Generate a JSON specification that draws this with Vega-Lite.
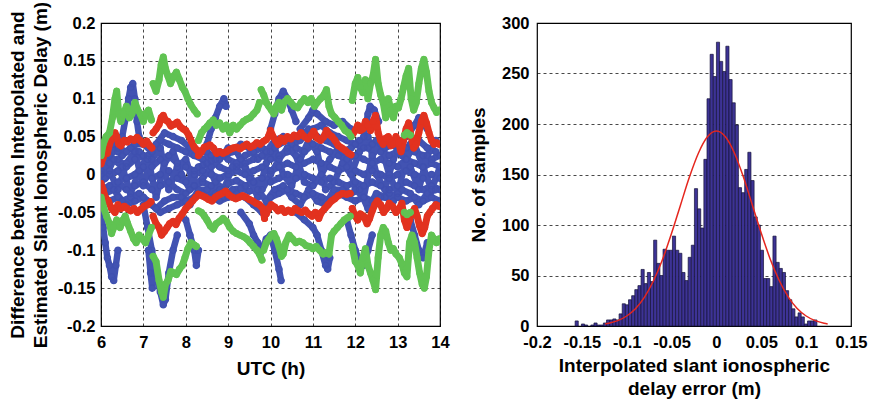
{
"$schema":"https://vega.github.io/schema/vega-lite/v6.json",
"background":"white",
"padding":{"left":7,"top":0,"right":5,"bottom":0},
"config":{
"font":"Liberation Sans",
"view":{"stroke":"black","strokeWidth":1.2},
"axis":{"labelFont":"Liberation Sans","labelFontSize":16.5,"labelFontWeight":"bold","labelColor":"black","titleFont":"Liberation Sans","titleFontSize":19,"titleFontWeight":"bold","titleColor":"black","domain":false,"ticks":false,"gridColor":"black","gridDash":[3,3],"gridWidth":0.8,"gridOpacity":0.9,"titleLineHeight":23,"labelFlush":false},
"concat":{"spacing":18}
},
"datasets":{
"blue":[
{"t":6,"v":0.005,"s":"b1"},{"t":6.2,"v":0.025,"s":"b1"},{"t":6.4,"v":0.035,"s":"b1"},{"t":6.6,"v":0.03,"s":"b1"},{"t":6.8,"v":0.04,"s":"b1"},{"t":7,"v":0.04,"s":"b1"},{"t":7.2,"v":0.03,"s":"b1"},{"t":7.4,"v":0.045,"s":"b1"},{"t":7.6,"v":0.04,"s":"b1"},{"t":7.8,"v":0.035,"s":"b1"},{"t":8,"v":0.03,"s":"b1"},{"t":8.2,"v":0.025,"s":"b1"},{"t":8.4,"v":0.02,"s":"b1"},{"t":8.6,"v":0.025,"s":"b1"},{"t":8.8,"v":0.03,"s":"b1"},{"t":9,"v":0.02,"s":"b1"},{"t":9.2,"v":0.015,"s":"b1"},{"t":9.4,"v":0.025,"s":"b1"},{"t":9.6,"v":0.03,"s":"b1"},{"t":9.8,"v":0.035,"s":"b1"},{"t":10,"v":0.03,"s":"b1"},{"t":10.2,"v":0.04,"s":"b1"},{"t":10.4,"v":0.045,"s":"b1"},{"t":10.6,"v":0.05,"s":"b1"},{"t":10.8,"v":0.055,"s":"b1"},{"t":11,"v":0.06,"s":"b1"},{"t":11.2,"v":0.065,"s":"b1"},{"t":11.4,"v":0.055,"s":"b1"},{"t":11.6,"v":0.05,"s":"b1"},{"t":11.8,"v":0.045,"s":"b1"},{"t":12,"v":0.04,"s":"b1"},{"t":12.2,"v":0.035,"s":"b1"},{"t":12.4,"v":0.04,"s":"b1"},{"t":12.6,"v":0.03,"s":"b1"},{"t":12.8,"v":0.025,"s":"b1"},{"t":13,"v":0.03,"s":"b1"},{"t":13.2,"v":0.035,"s":"b1"},{"t":13.4,"v":0.03,"s":"b1"},{"t":13.6,"v":0.025,"s":"b1"},{"t":13.8,"v":0.02,"s":"b1"},{"t":14,"v":0.025,"s":"b1"},
{"t":6,"v":0,"s":"b2"},{"t":6.2,"v":0.015,"s":"b2"},{"t":6.4,"v":0.02,"s":"b2"},{"t":6.6,"v":0.01,"s":"b2"},{"t":6.8,"v":0.02,"s":"b2"},{"t":7,"v":0.025,"s":"b2"},{"t":7.2,"v":0.01,"s":"b2"},{"t":7.4,"v":0.02,"s":"b2"},{"t":7.6,"v":0.025,"s":"b2"},{"t":7.8,"v":0.015,"s":"b2"},{"t":8,"v":0.01,"s":"b2"},{"t":8.2,"v":0.005,"s":"b2"},{"t":8.4,"v":0.012,"s":"b2"},{"t":8.6,"v":0.018,"s":"b2"},{"t":8.8,"v":0.01,"s":"b2"},{"t":9,"v":0.005,"s":"b2"},{"t":9.2,"v":0.01,"s":"b2"},{"t":9.4,"v":0.015,"s":"b2"},{"t":9.6,"v":0.02,"s":"b2"},{"t":9.8,"v":0.025,"s":"b2"},{"t":10,"v":0.02,"s":"b2"},{"t":10.2,"v":0.025,"s":"b2"},{"t":10.4,"v":0.03,"s":"b2"},{"t":10.6,"v":0.035,"s":"b2"},{"t":10.8,"v":0.03,"s":"b2"},{"t":11,"v":0.04,"s":"b2"},{"t":11.2,"v":0.035,"s":"b2"},{"t":11.4,"v":0.03,"s":"b2"},{"t":11.6,"v":0.025,"s":"b2"},{"t":11.8,"v":0.02,"s":"b2"},{"t":12,"v":0.025,"s":"b2"},{"t":12.2,"v":0.02,"s":"b2"},{"t":12.4,"v":0.015,"s":"b2"},{"t":12.6,"v":0.02,"s":"b2"},{"t":12.8,"v":0.015,"s":"b2"},{"t":13,"v":0.01,"s":"b2"},{"t":13.2,"v":0.02,"s":"b2"},{"t":13.4,"v":0.015,"s":"b2"},{"t":13.6,"v":0.01,"s":"b2"},{"t":13.8,"v":0.015,"s":"b2"},{"t":14,"v":0.01,"s":"b2"},
{"t":6,"v":-0.01,"s":"b3"},{"t":6.2,"v":0,"s":"b3"},{"t":6.4,"v":0.005,"s":"b3"},{"t":6.6,"v":-0.005,"s":"b3"},{"t":6.8,"v":0,"s":"b3"},{"t":7,"v":0.01,"s":"b3"},{"t":7.2,"v":-0.005,"s":"b3"},{"t":7.4,"v":0,"s":"b3"},{"t":7.6,"v":0.005,"s":"b3"},{"t":7.8,"v":-0.005,"s":"b3"},{"t":8,"v":-0.01,"s":"b3"},{"t":8.2,"v":0,"s":"b3"},{"t":8.4,"v":0.005,"s":"b3"},{"t":8.6,"v":0,"s":"b3"},{"t":8.8,"v":-0.005,"s":"b3"},{"t":9,"v":0,"s":"b3"},{"t":9.2,"v":0.005,"s":"b3"},{"t":9.4,"v":0,"s":"b3"},{"t":9.6,"v":0.005,"s":"b3"},{"t":9.8,"v":0.01,"s":"b3"},{"t":10,"v":0.005,"s":"b3"},{"t":10.2,"v":0.01,"s":"b3"},{"t":10.4,"v":0.015,"s":"b3"},{"t":10.6,"v":0.01,"s":"b3"},{"t":10.8,"v":0.015,"s":"b3"},{"t":11,"v":0.02,"s":"b3"},{"t":11.2,"v":0.015,"s":"b3"},{"t":11.4,"v":0.01,"s":"b3"},{"t":11.6,"v":0.005,"s":"b3"},{"t":11.8,"v":0.01,"s":"b3"},{"t":12,"v":0.005,"s":"b3"},{"t":12.2,"v":0,"s":"b3"},{"t":12.4,"v":0.005,"s":"b3"},{"t":12.6,"v":0,"s":"b3"},{"t":12.8,"v":-0.005,"s":"b3"},{"t":13,"v":0,"s":"b3"},{"t":13.2,"v":0.005,"s":"b3"},{"t":13.4,"v":0,"s":"b3"},{"t":13.6,"v":-0.005,"s":"b3"},{"t":13.8,"v":0,"s":"b3"},{"t":14,"v":-0.005,"s":"b3"},
{"t":6,"v":-0.02,"s":"b4"},{"t":6.2,"v":-0.015,"s":"b4"},{"t":6.4,"v":-0.01,"s":"b4"},{"t":6.6,"v":-0.02,"s":"b4"},{"t":6.8,"v":-0.015,"s":"b4"},{"t":7,"v":-0.01,"s":"b4"},{"t":7.2,"v":-0.02,"s":"b4"},{"t":7.4,"v":-0.015,"s":"b4"},{"t":7.6,"v":-0.01,"s":"b4"},{"t":7.8,"v":-0.02,"s":"b4"},{"t":8,"v":-0.025,"s":"b4"},{"t":8.2,"v":-0.015,"s":"b4"},{"t":8.4,"v":-0.01,"s":"b4"},{"t":8.6,"v":-0.015,"s":"b4"},{"t":8.8,"v":-0.02,"s":"b4"},{"t":9,"v":-0.012,"s":"b4"},{"t":9.2,"v":-0.008,"s":"b4"},{"t":9.4,"v":-0.015,"s":"b4"},{"t":9.6,"v":-0.01,"s":"b4"},{"t":9.8,"v":-0.005,"s":"b4"},{"t":10,"v":-0.01,"s":"b4"},{"t":10.2,"v":-0.005,"s":"b4"},{"t":10.4,"v":0,"s":"b4"},{"t":10.6,"v":-0.005,"s":"b4"},{"t":10.8,"v":0,"s":"b4"},{"t":11,"v":-0.005,"s":"b4"},{"t":11.2,"v":-0.01,"s":"b4"},{"t":11.4,"v":-0.005,"s":"b4"},{"t":11.6,"v":-0.01,"s":"b4"},{"t":11.8,"v":-0.015,"s":"b4"},{"t":12,"v":-0.01,"s":"b4"},{"t":12.2,"v":-0.015,"s":"b4"},{"t":12.4,"v":-0.01,"s":"b4"},{"t":12.6,"v":-0.015,"s":"b4"},{"t":12.8,"v":-0.02,"s":"b4"},{"t":13,"v":-0.015,"s":"b4"},{"t":13.2,"v":-0.01,"s":"b4"},{"t":13.4,"v":-0.015,"s":"b4"},{"t":13.6,"v":-0.02,"s":"b4"},{"t":13.8,"v":-0.015,"s":"b4"},{"t":14,"v":-0.02,"s":"b4"},
{"t":6,"v":-0.03,"s":"b5"},{"t":6.2,"v":-0.035,"s":"b5"},{"t":6.4,"v":-0.03,"s":"b5"},{"t":6.6,"v":-0.04,"s":"b5"},{"t":6.8,"v":-0.035,"s":"b5"},{"t":7,"v":-0.03,"s":"b5"},{"t":7.2,"v":-0.04,"s":"b5"},{"t":7.4,"v":-0.05,"s":"b5"},{"t":7.6,"v":-0.045,"s":"b5"},{"t":7.8,"v":-0.04,"s":"b5"},{"t":8,"v":-0.035,"s":"b5"},{"t":8.2,"v":-0.03,"s":"b5"},{"t":8.4,"v":-0.025,"s":"b5"},{"t":8.6,"v":-0.03,"s":"b5"},{"t":8.8,"v":-0.035,"s":"b5"},{"t":9,"v":-0.03,"s":"b5"},{"t":9.2,"v":-0.025,"s":"b5"},{"t":9.4,"v":-0.03,"s":"b5"},{"t":9.6,"v":-0.04,"s":"b5"},{"t":9.8,"v":-0.05,"s":"b5"},{"t":10,"v":-0.03,"s":"b5"},{"t":10.2,"v":-0.025,"s":"b5"},{"t":10.4,"v":-0.02,"s":"b5"},{"t":10.6,"v":-0.025,"s":"b5"},{"t":10.8,"v":-0.03,"s":"b5"},{"t":11,"v":-0.025,"s":"b5"},{"t":11.2,"v":-0.03,"s":"b5"},{"t":11.4,"v":-0.035,"s":"b5"},{"t":11.6,"v":-0.025,"s":"b5"},{"t":11.8,"v":-0.03,"s":"b5"},{"t":12,"v":-0.035,"s":"b5"},{"t":12.2,"v":-0.03,"s":"b5"},{"t":12.4,"v":-0.035,"s":"b5"},{"t":12.6,"v":-0.03,"s":"b5"},{"t":12.8,"v":-0.025,"s":"b5"},{"t":13,"v":-0.03,"s":"b5"},{"t":13.2,"v":-0.035,"s":"b5"},{"t":13.4,"v":-0.03,"s":"b5"},{"t":13.6,"v":-0.035,"s":"b5"},{"t":13.8,"v":-0.03,"s":"b5"},{"t":14,"v":-0.035,"s":"b5"},
{"t":6,"v":0.02,"s":"b6"},{"t":6.2,"v":0.005,"s":"b6"},{"t":6.4,"v":-0.02,"s":"b6"},{"t":6.6,"v":0.015,"s":"b6"},{"t":6.8,"v":0.03,"s":"b6"},{"t":7,"v":-0.015,"s":"b6"},{"t":7.2,"v":0.02,"s":"b6"},{"t":7.4,"v":0.035,"s":"b6"},{"t":7.6,"v":-0.02,"s":"b6"},{"t":7.8,"v":0.01,"s":"b6"},{"t":8,"v":0.02,"s":"b6"},{"t":8.2,"v":-0.015,"s":"b6"},{"t":8.4,"v":-0.005,"s":"b6"},{"t":8.6,"v":0.01,"s":"b6"},{"t":8.8,"v":0.02,"s":"b6"},{"t":9,"v":0.035,"s":"b6"},{"t":9.2,"v":0.03,"s":"b6"},{"t":9.4,"v":0.01,"s":"b6"},{"t":9.6,"v":-0.01,"s":"b6"},{"t":9.8,"v":-0.02,"s":"b6"},{"t":10,"v":0,"s":"b6"},{"t":10.2,"v":0.02,"s":"b6"},{"t":10.4,"v":0.035,"s":"b6"},{"t":10.6,"v":0.025,"s":"b6"},{"t":10.8,"v":-0.01,"s":"b6"},{"t":11,"v":-0.015,"s":"b6"},{"t":11.2,"v":0,"s":"b6"},{"t":11.4,"v":0.02,"s":"b6"},{"t":11.6,"v":0.035,"s":"b6"},{"t":11.8,"v":0.03,"s":"b6"},{"t":12,"v":-0.02,"s":"b6"},{"t":12.2,"v":-0.03,"s":"b6"},{"t":12.4,"v":0.025,"s":"b6"},{"t":12.6,"v":0.04,"s":"b6"},{"t":12.8,"v":0,"s":"b6"},{"t":13,"v":-0.025,"s":"b6"},{"t":13.2,"v":0.02,"s":"b6"},{"t":13.4,"v":0.04,"s":"b6"},{"t":13.6,"v":0.01,"s":"b6"},{"t":13.8,"v":-0.02,"s":"b6"},{"t":14,"v":0.01,"s":"b6"},
{"t":6.1,"v":-0.005,"s":"b7"},{"t":6.3,"v":0.02,"s":"b7"},{"t":6.5,"v":0.01,"s":"b7"},{"t":6.7,"v":-0.025,"s":"b7"},{"t":6.9,"v":0.005,"s":"b7"},{"t":7.1,"v":0.025,"s":"b7"},{"t":7.3,"v":-0.03,"s":"b7"},{"t":7.5,"v":0.015,"s":"b7"},{"t":7.7,"v":0.03,"s":"b7"},{"t":7.9,"v":0,"s":"b7"},{"t":8.1,"v":-0.02,"s":"b7"},{"t":8.3,"v":0.01,"s":"b7"},{"t":8.5,"v":0.015,"s":"b7"},{"t":8.7,"v":-0.01,"s":"b7"},{"t":8.9,"v":-0.02,"s":"b7"},{"t":9.1,"v":0.01,"s":"b7"},{"t":9.3,"v":0.02,"s":"b7"},{"t":9.5,"v":-0.005,"s":"b7"},{"t":9.7,"v":-0.03,"s":"b7"},{"t":9.9,"v":0.015,"s":"b7"},{"t":10.1,"v":0.035,"s":"b7"},{"t":10.3,"v":0,"s":"b7"},{"t":10.5,"v":-0.015,"s":"b7"},{"t":10.7,"v":0.02,"s":"b7"},{"t":10.9,"v":0.045,"s":"b7"},{"t":11.1,"v":0.03,"s":"b7"},{"t":11.3,"v":-0.02,"s":"b7"},{"t":11.5,"v":-0.01,"s":"b7"},{"t":11.7,"v":0.015,"s":"b7"},{"t":11.9,"v":0,"s":"b7"},{"t":12.1,"v":0.03,"s":"b7"},{"t":12.3,"v":0.05,"s":"b7"},{"t":12.5,"v":0,"s":"b7"},{"t":12.7,"v":-0.02,"s":"b7"},{"t":12.9,"v":0.02,"s":"b7"},{"t":13.1,"v":0.045,"s":"b7"},{"t":13.3,"v":0.01,"s":"b7"},{"t":13.5,"v":-0.02,"s":"b7"},{"t":13.7,"v":0.025,"s":"b7"},{"t":13.9,"v":0.045,"s":"b7"},
{"t":6.1,"v":0.03,"s":"b8"},{"t":6.3,"v":0.04,"s":"b8"},{"t":6.5,"v":0.025,"s":"b8"},{"t":6.7,"v":0.035,"s":"b8"},{"t":6.9,"v":0.03,"s":"b8"},{"t":7.1,"v":0.02,"s":"b8"},{"t":7.3,"v":0.04,"s":"b8"},{"t":7.5,"v":0.055,"s":"b8"},{"t":7.7,"v":0.05,"s":"b8"},{"t":7.9,"v":0.045,"s":"b8"},{"t":8.1,"v":0.035,"s":"b8"},{"t":8.3,"v":0.03,"s":"b8"},{"t":8.5,"v":0.03,"s":"b8"},{"t":8.7,"v":0.02,"s":"b8"},{"t":8.9,"v":0.025,"s":"b8"},{"t":9.1,"v":0.03,"s":"b8"},{"t":9.3,"v":0.04,"s":"b8"},{"t":9.5,"v":0.035,"s":"b8"},{"t":9.7,"v":0.02,"s":"b8"},{"t":9.9,"v":0.03,"s":"b8"},{"t":10.1,"v":0.045,"s":"b8"},{"t":10.3,"v":0.05,"s":"b8"},{"t":10.5,"v":0.04,"s":"b8"},{"t":10.7,"v":0.045,"s":"b8"},{"t":10.9,"v":0.06,"s":"b8"},{"t":11.1,"v":0.05,"s":"b8"},{"t":11.3,"v":0.045,"s":"b8"},{"t":11.5,"v":0.04,"s":"b8"},{"t":11.7,"v":0.03,"s":"b8"},{"t":11.9,"v":0.035,"s":"b8"},{"t":12.1,"v":0.045,"s":"b8"},{"t":12.3,"v":0.035,"s":"b8"},{"t":12.5,"v":0.045,"s":"b8"},{"t":12.7,"v":0.035,"s":"b8"},{"t":12.9,"v":0.04,"s":"b8"},{"t":13.1,"v":0.025,"s":"b8"},{"t":13.3,"v":0.04,"s":"b8"},{"t":13.5,"v":0.045,"s":"b8"},{"t":13.7,"v":0.035,"s":"b8"},{"t":13.9,"v":0.03,"s":"b8"},
{"t":6.1,"v":-0.025,"s":"b9"},{"t":6.3,"v":-0.02,"s":"b9"},{"t":6.5,"v":-0.035,"s":"b9"},{"t":6.7,"v":-0.03,"s":"b9"},{"t":6.9,"v":-0.025,"s":"b9"},{"t":7.1,"v":-0.035,"s":"b9"},{"t":7.3,"v":-0.045,"s":"b9"},{"t":7.5,"v":-0.035,"s":"b9"},{"t":7.7,"v":-0.03,"s":"b9"},{"t":7.9,"v":-0.03,"s":"b9"},{"t":8.1,"v":-0.04,"s":"b9"},{"t":8.3,"v":-0.02,"s":"b9"},{"t":8.5,"v":-0.02,"s":"b9"},{"t":8.7,"v":-0.025,"s":"b9"},{"t":8.9,"v":-0.03,"s":"b9"},{"t":9.1,"v":-0.02,"s":"b9"},{"t":9.3,"v":-0.018,"s":"b9"},{"t":9.5,"v":-0.022,"s":"b9"},{"t":9.7,"v":-0.02,"s":"b9"},{"t":9.9,"v":-0.035,"s":"b9"},{"t":10.1,"v":-0.02,"s":"b9"},{"t":10.3,"v":-0.015,"s":"b9"},{"t":10.5,"v":-0.03,"s":"b9"},{"t":10.7,"v":-0.04,"s":"b9"},{"t":10.9,"v":-0.02,"s":"b9"},{"t":11.1,"v":-0.035,"s":"b9"},{"t":11.3,"v":-0.04,"s":"b9"},{"t":11.5,"v":-0.02,"s":"b9"},{"t":11.7,"v":-0.02,"s":"b9"},{"t":11.9,"v":-0.025,"s":"b9"},{"t":12.1,"v":-0.02,"s":"b9"},{"t":12.3,"v":-0.045,"s":"b9"},{"t":12.5,"v":-0.025,"s":"b9"},{"t":12.7,"v":-0.03,"s":"b9"},{"t":12.9,"v":-0.035,"s":"b9"},{"t":13.1,"v":-0.02,"s":"b9"},{"t":13.3,"v":-0.025,"s":"b9"},{"t":13.5,"v":-0.04,"s":"b9"},{"t":13.7,"v":-0.025,"s":"b9"},{"t":13.9,"v":-0.02,"s":"b9"},
{"t":6,"v":-0.05,"s":"e1"},{"t":6.05,"v":-0.07,"s":"e1"},{"t":6.1,"v":-0.09,"s":"e1"},{"t":6.15,"v":-0.11,"s":"e1"},{"t":6.2,"v":-0.12,"s":"e1"},{"t":6.25,"v":-0.135,"s":"e1"},{"t":6.3,"v":-0.14,"s":"e1"},{"t":6.35,"v":-0.12,"s":"e1"},{"t":6.4,"v":-0.1,"s":"e1"},
{"t":6.4,"v":0.03,"s":"e2"},{"t":6.5,"v":0.05,"s":"e2"},{"t":6.6,"v":0.08,"s":"e2"},{"t":6.65,"v":0.1,"s":"e2"},{"t":6.7,"v":0.115,"s":"e2"},{"t":6.75,"v":0.12,"s":"e2"},{"t":6.8,"v":0.1,"s":"e2"},{"t":6.85,"v":0.07,"s":"e2"},{"t":6.9,"v":0.05,"s":"e2"},
{"t":7,"v":-0.04,"s":"e3"},{"t":7.1,"v":-0.07,"s":"e3"},{"t":7.2,"v":-0.1,"s":"e3"},{"t":7.3,"v":-0.13,"s":"e3"},{"t":7.4,"v":-0.155,"s":"e3"},{"t":7.47,"v":-0.172,"s":"e3"},{"t":7.52,"v":-0.165,"s":"e3"},{"t":7.6,"v":-0.13,"s":"e3"},{"t":7.7,"v":-0.1,"s":"e3"},{"t":7.8,"v":-0.08,"s":"e3"},
{"t":7.12,"v":-0.1,"s":"e3b"},{"t":7.17,"v":-0.13,"s":"e3b"},{"t":7.21,"v":-0.15,"s":"e3b"},{"t":7.26,"v":-0.13,"s":"e3b"},
{"t":8,"v":-0.06,"s":"e4"},{"t":8.1,"v":-0.08,"s":"e4"},{"t":8.2,"v":-0.1,"s":"e4"},{"t":8.25,"v":-0.12,"s":"e4"},{"t":8.3,"v":-0.1,"s":"e4"},
{"t":8.5,"v":0.04,"s":"e5"},{"t":8.6,"v":0.06,"s":"e5"},{"t":8.7,"v":0.075,"s":"e5"},{"t":8.8,"v":0.09,"s":"e5"},{"t":8.9,"v":0.1,"s":"e5"},{"t":8.95,"v":0.09,"s":"e5"},
{"t":9.3,"v":-0.05,"s":"e6"},{"t":9.5,"v":-0.065,"s":"e6"},{"t":9.6,"v":-0.08,"s":"e6"},{"t":9.7,"v":-0.09,"s":"e6"},{"t":9.75,"v":-0.105,"s":"e6"},{"t":9.8,"v":-0.1,"s":"e6"},{"t":9.9,"v":-0.085,"s":"e6"},{"t":10,"v":-0.08,"s":"e6"},{"t":10.1,"v":-0.1,"s":"e6"},{"t":10.2,"v":-0.125,"s":"e6"},{"t":10.25,"v":-0.14,"s":"e6"},
{"t":10,"v":0.06,"s":"e7"},{"t":10.1,"v":0.08,"s":"e7"},{"t":10.2,"v":0.1,"s":"e7"},{"t":10.3,"v":0.11,"s":"e7"},{"t":10.4,"v":0.1,"s":"e7"},{"t":10.5,"v":0.085,"s":"e7"},{"t":10.6,"v":0.07,"s":"e7"},
{"t":10.7,"v":0.06,"s":"e8"},{"t":10.9,"v":0.075,"s":"e8"},{"t":11,"v":0.085,"s":"e8"},{"t":11.1,"v":0.08,"s":"e8"},{"t":11.3,"v":0.07,"s":"e8"},{"t":11.5,"v":0.065,"s":"e8"},{"t":11.7,"v":0.07,"s":"e8"},{"t":11.9,"v":0.06,"s":"e8"},
{"t":10.6,"v":-0.05,"s":"e9"},{"t":10.8,"v":-0.06,"s":"e9"},{"t":11,"v":-0.07,"s":"e9"},{"t":11.1,"v":-0.08,"s":"e9"},{"t":11.2,"v":-0.1,"s":"e9"},{"t":11.3,"v":-0.12,"s":"e9"},{"t":11.35,"v":-0.125,"s":"e9"},{"t":11.4,"v":-0.11,"s":"e9"},
{"t":11.8,"v":-0.06,"s":"e10"},{"t":11.9,"v":-0.08,"s":"e10"},{"t":12,"v":-0.1,"s":"e10"},{"t":12.1,"v":-0.115,"s":"e10"},{"t":12.2,"v":-0.12,"s":"e10"},{"t":12.3,"v":-0.1,"s":"e10"},{"t":12.4,"v":-0.08,"s":"e10"},
{"t":12.2,"v":0.05,"s":"e11"},{"t":12.3,"v":0.08,"s":"e11"},{"t":12.35,"v":0.09,"s":"e11"},{"t":12.45,"v":0.085,"s":"e11"},{"t":12.55,"v":0.07,"s":"e11"},
{"t":13.3,"v":-0.06,"s":"e12"},{"t":13.4,"v":-0.08,"s":"e12"},{"t":13.5,"v":-0.1,"s":"e12"},{"t":13.6,"v":-0.11,"s":"e12"},{"t":13.7,"v":-0.09,"s":"e12"},
{"t":13.2,"v":0.05,"s":"e13"},{"t":13.4,"v":0.065,"s":"e13"},{"t":13.5,"v":0.075,"s":"e13"},{"t":13.7,"v":0.06,"s":"e13"}
],
"red":[
{"t":6,"v":0.014,"s":"ua"},{"t":6.05,"v":0.022,"s":"ua"},{"t":6.1,"v":0.03,"s":"ua"},{"t":6.15,"v":0.028,"s":"ua"},{"t":6.2,"v":0.04,"s":"ua"},{"t":6.27,"v":0.05,"s":"ua"},{"t":6.33,"v":0.055,"s":"ua"},{"t":6.37,"v":0.05,"s":"ua"},{"t":6.42,"v":0.04,"s":"ua"},{"t":6.47,"v":0.038,"s":"ua"},{"t":6.55,"v":0.045,"s":"ua"},{"t":6.62,"v":0.043,"s":"ua"},{"t":6.7,"v":0.047,"s":"ua"},{"t":6.78,"v":0.045,"s":"ua"},{"t":6.85,"v":0.049,"s":"ua"},{"t":6.92,"v":0.045,"s":"ua"},{"t":7,"v":0.04,"s":"ua"},{"t":7.08,"v":0.044,"s":"ua"},{"t":7.15,"v":0.038,"s":"ua"},{"t":7.2,"v":0.035,"s":"ua"},
{"t":7.23,"v":0.055,"s":"ub"},{"t":7.3,"v":0.06,"s":"ub"},{"t":7.37,"v":0.066,"s":"ub"},{"t":7.42,"v":0.075,"s":"ub"},{"t":7.47,"v":0.078,"s":"ub"},{"t":7.52,"v":0.072,"s":"ub"},{"t":7.58,"v":0.07,"s":"ub"},{"t":7.65,"v":0.064,"s":"ub"},{"t":7.72,"v":0.066,"s":"ub"},{"t":7.8,"v":0.069,"s":"ub"},{"t":7.87,"v":0.063,"s":"ub"},{"t":7.94,"v":0.06,"s":"ub"},{"t":8,"v":0.058,"s":"ub"},{"t":8.07,"v":0.052,"s":"ub"},{"t":8.13,"v":0.044,"s":"ub"},{"t":8.2,"v":0.036,"s":"ub"},{"t":8.27,"v":0.032,"s":"ub"},
{"t":8.3,"v":0.025,"s":"uc"},{"t":8.37,"v":0.03,"s":"uc"},{"t":8.44,"v":0.036,"s":"uc"},{"t":8.5,"v":0.037,"s":"uc"},{"t":8.57,"v":0.039,"s":"uc"},{"t":8.65,"v":0.035,"s":"uc"},{"t":8.73,"v":0.028,"s":"uc"},{"t":8.8,"v":0.03,"s":"uc"},{"t":8.88,"v":0.028,"s":"uc"},{"t":8.96,"v":0.03,"s":"uc"},{"t":9.04,"v":0.033,"s":"uc"},{"t":9.12,"v":0.035,"s":"uc"},{"t":9.2,"v":0.036,"s":"uc"},{"t":9.28,"v":0.034,"s":"uc"},{"t":9.36,"v":0.037,"s":"uc"},{"t":9.44,"v":0.04,"s":"uc"},{"t":9.52,"v":0.036,"s":"uc"},{"t":9.6,"v":0.038,"s":"uc"},{"t":9.68,"v":0.042,"s":"uc"},{"t":9.76,"v":0.04,"s":"uc"},{"t":9.84,"v":0.044,"s":"uc"},{"t":9.9,"v":0.046,"s":"uc"},
{"t":9.95,"v":0.05,"s":"ud"},{"t":10,"v":0.058,"s":"ud"},{"t":10.06,"v":0.05,"s":"ud"},{"t":10.12,"v":0.045,"s":"ud"},{"t":10.18,"v":0.04,"s":"ud"},{"t":10.25,"v":0.048,"s":"ud"},{"t":10.32,"v":0.044,"s":"ud"},{"t":10.4,"v":0.05,"s":"ud"},{"t":10.48,"v":0.047,"s":"ud"},{"t":10.56,"v":0.052,"s":"ud"},{"t":10.64,"v":0.05,"s":"ud"},{"t":10.72,"v":0.055,"s":"ud"},{"t":10.8,"v":0.05,"s":"ud"},{"t":10.88,"v":0.047,"s":"ud"},{"t":10.96,"v":0.052,"s":"ud"},{"t":11.02,"v":0.057,"s":"ud"},{"t":11.1,"v":0.048,"s":"ud"},{"t":11.18,"v":0.045,"s":"ud"},{"t":11.26,"v":0.05,"s":"ud"},{"t":11.32,"v":0.058,"s":"ud"},{"t":11.38,"v":0.053,"s":"ud"},{"t":11.45,"v":0.05,"s":"ud"},{"t":11.52,"v":0.045,"s":"ud"},{"t":11.6,"v":0.038,"s":"ud"},{"t":11.68,"v":0.035,"s":"ud"},{"t":11.76,"v":0.032,"s":"ud"},{"t":11.84,"v":0.028,"s":"ud"},{"t":11.9,"v":0.026,"s":"ud"},
{"t":11.93,"v":0.052,"s":"ue"},{"t":12,"v":0.058,"s":"ue"},{"t":12.06,"v":0.065,"s":"ue"},{"t":12.12,"v":0.058,"s":"ue"},{"t":12.18,"v":0.06,"s":"ue"},{"t":12.24,"v":0.07,"s":"ue"},{"t":12.3,"v":0.065,"s":"ue"},{"t":12.36,"v":0.058,"s":"ue"},{"t":12.42,"v":0.07,"s":"ue"},{"t":12.48,"v":0.078,"s":"ue"},{"t":12.54,"v":0.055,"s":"ue"},{"t":12.6,"v":0.045,"s":"ue"},{"t":12.66,"v":0.04,"s":"ue"},{"t":12.72,"v":0.048,"s":"ue"},{"t":12.78,"v":0.05,"s":"ue"},{"t":12.84,"v":0.038,"s":"ue"},{"t":12.9,"v":0.04,"s":"ue"},{"t":12.96,"v":0.05,"s":"ue"},{"t":13.02,"v":0.042,"s":"ue"},{"t":13.08,"v":0.03,"s":"ue"},{"t":13.14,"v":0.045,"s":"ue"},{"t":13.2,"v":0.06,"s":"ue"},{"t":13.26,"v":0.068,"s":"ue"},{"t":13.32,"v":0.05,"s":"ue"},{"t":13.38,"v":0.035,"s":"ue"},{"t":13.44,"v":0.04,"s":"ue"},{"t":13.5,"v":0.055,"s":"ue"},{"t":13.56,"v":0.07,"s":"ue"},{"t":13.62,"v":0.078,"s":"ue"},{"t":13.68,"v":0.068,"s":"ue"},{"t":13.74,"v":0.055,"s":"ue"},{"t":13.8,"v":0.045,"s":"ue"},{"t":13.86,"v":0.04,"s":"ue"},{"t":13.92,"v":0.042,"s":"ue"},{"t":13.98,"v":0.04,"s":"ue"},
{"t":6,"v":-0.012,"s":"la"},{"t":6.05,"v":-0.02,"s":"la"},{"t":6.1,"v":-0.03,"s":"la"},{"t":6.17,"v":-0.035,"s":"la"},{"t":6.25,"v":-0.045,"s":"la"},{"t":6.33,"v":-0.05,"s":"la"},{"t":6.4,"v":-0.04,"s":"la"},{"t":6.47,"v":-0.045,"s":"la"},{"t":6.55,"v":-0.042,"s":"la"},{"t":6.62,"v":-0.045,"s":"la"},{"t":6.7,"v":-0.048,"s":"la"},{"t":6.78,"v":-0.045,"s":"la"},{"t":6.86,"v":-0.05,"s":"la"},{"t":6.94,"v":-0.046,"s":"la"},{"t":7.02,"v":-0.042,"s":"la"},{"t":7.1,"v":-0.04,"s":"la"},{"t":7.18,"v":-0.036,"s":"la"},
{"t":7.23,"v":-0.055,"s":"lb"},{"t":7.3,"v":-0.065,"s":"lb"},{"t":7.37,"v":-0.07,"s":"lb"},{"t":7.43,"v":-0.08,"s":"lb"},{"t":7.5,"v":-0.075,"s":"lb"},{"t":7.56,"v":-0.07,"s":"lb"},{"t":7.62,"v":-0.065,"s":"lb"},{"t":7.7,"v":-0.062,"s":"lb"},{"t":7.77,"v":-0.066,"s":"lb"},{"t":7.84,"v":-0.058,"s":"lb"},{"t":7.92,"v":-0.052,"s":"lb"},{"t":8,"v":-0.045,"s":"lb"},{"t":8.08,"v":-0.04,"s":"lb"},{"t":8.16,"v":-0.035,"s":"lb"},{"t":8.24,"v":-0.03,"s":"lb"},
{"t":8.3,"v":-0.026,"s":"lc"},{"t":8.38,"v":-0.028,"s":"lc"},{"t":8.46,"v":-0.03,"s":"lc"},{"t":8.54,"v":-0.033,"s":"lc"},{"t":8.62,"v":-0.035,"s":"lc"},{"t":8.7,"v":-0.03,"s":"lc"},{"t":8.78,"v":-0.027,"s":"lc"},{"t":8.86,"v":-0.025,"s":"lc"},{"t":8.94,"v":-0.022,"s":"lc"},{"t":9.02,"v":-0.027,"s":"lc"},{"t":9.1,"v":-0.03,"s":"lc"},{"t":9.18,"v":-0.032,"s":"lc"},{"t":9.26,"v":-0.03,"s":"lc"},{"t":9.34,"v":-0.028,"s":"lc"},{"t":9.42,"v":-0.03,"s":"lc"},{"t":9.5,"v":-0.033,"s":"lc"},{"t":9.58,"v":-0.035,"s":"lc"},{"t":9.66,"v":-0.038,"s":"lc"},{"t":9.74,"v":-0.04,"s":"lc"},{"t":9.82,"v":-0.045,"s":"lc"},{"t":9.86,"v":-0.058,"s":"lc"},
{"t":9.9,"v":-0.052,"s":"ld"},{"t":9.96,"v":-0.045,"s":"ld"},{"t":10.02,"v":-0.04,"s":"ld"},{"t":10.1,"v":-0.043,"s":"ld"},{"t":10.18,"v":-0.048,"s":"ld"},{"t":10.26,"v":-0.045,"s":"ld"},{"t":10.34,"v":-0.05,"s":"ld"},{"t":10.42,"v":-0.047,"s":"ld"},{"t":10.5,"v":-0.05,"s":"ld"},{"t":10.58,"v":-0.045,"s":"ld"},{"t":10.66,"v":-0.048,"s":"ld"},{"t":10.74,"v":-0.05,"s":"ld"},{"t":10.82,"v":-0.047,"s":"ld"},{"t":10.9,"v":-0.052,"s":"ld"},{"t":10.98,"v":-0.055,"s":"ld"},{"t":11.06,"v":-0.05,"s":"ld"},{"t":11.14,"v":-0.058,"s":"ld"},{"t":11.2,"v":-0.05,"s":"ld"},{"t":11.28,"v":-0.045,"s":"ld"},{"t":11.36,"v":-0.04,"s":"ld"},{"t":11.44,"v":-0.035,"s":"ld"},{"t":11.52,"v":-0.032,"s":"ld"},{"t":11.6,"v":-0.028,"s":"ld"},{"t":11.7,"v":-0.025,"s":"ld"},{"t":11.8,"v":-0.026,"s":"ld"},{"t":11.88,"v":-0.025,"s":"ld"},
{"t":11.93,"v":-0.045,"s":"le"},{"t":12,"v":-0.055,"s":"le"},{"t":12.06,"v":-0.06,"s":"le"},{"t":12.12,"v":-0.052,"s":"le"},{"t":12.2,"v":-0.055,"s":"le"},{"t":12.28,"v":-0.065,"s":"le"},{"t":12.34,"v":-0.058,"s":"le"},{"t":12.4,"v":-0.048,"s":"le"},{"t":12.46,"v":-0.04,"s":"le"},{"t":12.52,"v":-0.035,"s":"le"},{"t":12.6,"v":-0.04,"s":"le"},{"t":12.67,"v":-0.05,"s":"le"},{"t":12.74,"v":-0.045,"s":"le"},{"t":12.8,"v":-0.038,"s":"le"},{"t":12.88,"v":-0.042,"s":"le"},{"t":12.96,"v":-0.05,"s":"le"},{"t":13.04,"v":-0.045,"s":"le"},{"t":13.1,"v":-0.038,"s":"le"},{"t":13.16,"v":-0.06,"s":"le"},{"t":13.22,"v":-0.07,"s":"le"},{"t":13.28,"v":-0.06,"s":"le"},{"t":13.34,"v":-0.05,"s":"le"},{"t":13.4,"v":-0.045,"s":"le"},{"t":13.46,"v":-0.055,"s":"le"},{"t":13.52,"v":-0.068,"s":"le"},{"t":13.58,"v":-0.078,"s":"le"},{"t":13.64,"v":-0.07,"s":"le"},{"t":13.7,"v":-0.055,"s":"le"},{"t":13.76,"v":-0.05,"s":"le"},{"t":13.82,"v":-0.045,"s":"le"},{"t":13.9,"v":-0.04,"s":"le"},{"t":13.98,"v":-0.042,"s":"le"}
],
"green":[
{"t":6,"v":0.025,"s":"ua"},{"t":6.05,"v":0.04,"s":"ua"},{"t":6.12,"v":0.05,"s":"ua"},{"t":6.2,"v":0.055,"s":"ua"},{"t":6.27,"v":0.075,"s":"ua"},{"t":6.33,"v":0.1,"s":"ua"},{"t":6.37,"v":0.11,"s":"ua"},{"t":6.42,"v":0.08,"s":"ua"},{"t":6.47,"v":0.07,"s":"ua"},{"t":6.53,"v":0.08,"s":"ua"},{"t":6.6,"v":0.09,"s":"ua"},{"t":6.67,"v":0.075,"s":"ua"},{"t":6.73,"v":0.08,"s":"ua"},{"t":6.8,"v":0.095,"s":"ua"},{"t":6.87,"v":0.085,"s":"ua"},{"t":6.93,"v":0.08,"s":"ua"},{"t":7,"v":0.07,"s":"ua"},{"t":7.05,"v":0.08,"s":"ua"},{"t":7.12,"v":0.085,"s":"ua"},{"t":7.19,"v":0.072,"s":"ua"},
{"t":7.23,"v":0.12,"s":"ub"},{"t":7.3,"v":0.11,"s":"ub"},{"t":7.37,"v":0.125,"s":"ub"},{"t":7.42,"v":0.145,"s":"ub"},{"t":7.47,"v":0.155,"s":"ub"},{"t":7.52,"v":0.14,"s":"ub"},{"t":7.58,"v":0.13,"s":"ub"},{"t":7.64,"v":0.12,"s":"ub"},{"t":7.72,"v":0.13,"s":"ub"},{"t":7.78,"v":0.135,"s":"ub"},{"t":7.85,"v":0.125,"s":"ub"},{"t":7.92,"v":0.115,"s":"ub"},{"t":7.98,"v":0.11,"s":"ub"},{"t":8.05,"v":0.1,"s":"ub"},{"t":8.12,"v":0.092,"s":"ub"},{"t":8.2,"v":0.085,"s":"ub"},{"t":8.27,"v":0.08,"s":"ub"},
{"t":8.3,"v":0.045,"s":"uc"},{"t":8.37,"v":0.055,"s":"uc"},{"t":8.44,"v":0.06,"s":"uc"},{"t":8.5,"v":0.063,"s":"uc"},{"t":8.57,"v":0.068,"s":"uc"},{"t":8.65,"v":0.072,"s":"uc"},{"t":8.72,"v":0.065,"s":"uc"},{"t":8.8,"v":0.068,"s":"uc"},{"t":8.88,"v":0.06,"s":"uc"},{"t":8.96,"v":0.065,"s":"uc"},{"t":9.04,"v":0.055,"s":"uc"},{"t":9.12,"v":0.065,"s":"uc"},{"t":9.2,"v":0.06,"s":"uc"},{"t":9.28,"v":0.065,"s":"uc"},{"t":9.36,"v":0.07,"s":"uc"},{"t":9.44,"v":0.073,"s":"uc"},{"t":9.52,"v":0.075,"s":"uc"},{"t":9.6,"v":0.08,"s":"uc"},{"t":9.68,"v":0.085,"s":"uc"},{"t":9.74,"v":0.095,"s":"uc"},
{"t":9.78,"v":0.112,"s":"ud"},{"t":9.84,"v":0.105,"s":"ud"},{"t":9.9,"v":0.095,"s":"ud"},{"t":9.96,"v":0.09,"s":"ud"},{"t":10.02,"v":0.085,"s":"ud"},{"t":10.08,"v":0.08,"s":"ud"},{"t":10.14,"v":0.09,"s":"ud"},{"t":10.2,"v":0.095,"s":"ud"},{"t":10.26,"v":0.085,"s":"ud"},{"t":10.32,"v":0.095,"s":"ud"},{"t":10.4,"v":0.1,"s":"ud"},{"t":10.48,"v":0.095,"s":"ud"},{"t":10.56,"v":0.09,"s":"ud"},{"t":10.64,"v":0.088,"s":"ud"},{"t":10.72,"v":0.095,"s":"ud"},{"t":10.8,"v":0.1,"s":"ud"},{"t":10.88,"v":0.095,"s":"ud"},{"t":10.96,"v":0.1,"s":"ud"},{"t":11.04,"v":0.09,"s":"ud"},{"t":11.1,"v":0.095,"s":"ud"},{"t":11.18,"v":0.1,"s":"ud"},{"t":11.26,"v":0.105,"s":"ud"},{"t":11.32,"v":0.112,"s":"ud"},{"t":11.38,"v":0.09,"s":"ud"},{"t":11.44,"v":0.08,"s":"ud"},{"t":11.52,"v":0.075,"s":"ud"},{"t":11.6,"v":0.07,"s":"ud"},{"t":11.68,"v":0.065,"s":"ud"},{"t":11.76,"v":0.058,"s":"ud"},{"t":11.84,"v":0.055,"s":"ud"},{"t":11.9,"v":0.05,"s":"ud"},
{"t":11.93,"v":0.098,"s":"ue"},{"t":12,"v":0.12,"s":"ue"},{"t":12.06,"v":0.128,"s":"ue"},{"t":12.12,"v":0.115,"s":"ue"},{"t":12.18,"v":0.108,"s":"ue"},{"t":12.24,"v":0.125,"s":"ue"},{"t":12.3,"v":0.1,"s":"ue"},{"t":12.36,"v":0.12,"s":"ue"},{"t":12.42,"v":0.13,"s":"ue"},{"t":12.48,"v":0.152,"s":"ue"},{"t":12.54,"v":0.12,"s":"ue"},{"t":12.6,"v":0.105,"s":"ue"},{"t":12.66,"v":0.095,"s":"ue"},{"t":12.72,"v":0.075,"s":"ue"},{"t":12.78,"v":0.1,"s":"ue"},{"t":12.84,"v":0.085,"s":"ue"},{"t":12.9,"v":0.075,"s":"ue"},{"t":12.96,"v":0.09,"s":"ue"},{"t":13.02,"v":0.088,"s":"ue"},{"t":13.08,"v":0.1,"s":"ue"},{"t":13.14,"v":0.115,"s":"ue"},{"t":13.2,"v":0.13,"s":"ue"},{"t":13.26,"v":0.14,"s":"ue"},{"t":13.32,"v":0.1,"s":"ue"},{"t":13.38,"v":0.085,"s":"ue"},{"t":13.44,"v":0.095,"s":"ue"},{"t":13.5,"v":0.12,"s":"ue"},{"t":13.56,"v":0.14,"s":"ue"},{"t":13.62,"v":0.152,"s":"ue"},{"t":13.68,"v":0.135,"s":"ue"},{"t":13.74,"v":0.11,"s":"ue"},{"t":13.8,"v":0.095,"s":"ue"},{"t":13.86,"v":0.088,"s":"ue"},{"t":13.92,"v":0.082,"s":"ue"},{"t":13.98,"v":0.085,"s":"ue"},
{"t":13.16,"v":0.052,"s":"x1"},{"t":13.22,"v":0.055,"s":"x1"},{"t":13.3,"v":0.052,"s":"x1"},
{"t":13.16,"v":-0.05,"s":"x2"},{"t":13.22,"v":-0.053,"s":"x2"},{"t":13.3,"v":-0.05,"s":"x2"},
{"t":6,"v":-0.03,"s":"la"},{"t":6.07,"v":-0.045,"s":"la"},{"t":6.13,"v":-0.055,"s":"la"},{"t":6.2,"v":-0.065,"s":"la"},{"t":6.25,"v":-0.078,"s":"la"},{"t":6.3,"v":-0.07,"s":"la"},{"t":6.37,"v":-0.06,"s":"la"},{"t":6.45,"v":-0.07,"s":"la"},{"t":6.52,"v":-0.06,"s":"la"},{"t":6.57,"v":-0.055,"s":"la"},{"t":6.63,"v":-0.065,"s":"la"},{"t":6.7,"v":-0.075,"s":"la"},{"t":6.77,"v":-0.085,"s":"la"},{"t":6.83,"v":-0.09,"s":"la"},{"t":6.9,"v":-0.08,"s":"la"},{"t":6.97,"v":-0.085,"s":"la"},{"t":7.05,"v":-0.09,"s":"la"},{"t":7.12,"v":-0.08,"s":"la"},{"t":7.19,"v":-0.07,"s":"la"},
{"t":7.23,"v":-0.108,"s":"lb"},{"t":7.3,"v":-0.115,"s":"lb"},{"t":7.37,"v":-0.14,"s":"lb"},{"t":7.43,"v":-0.155,"s":"lb"},{"t":7.47,"v":-0.162,"s":"lb"},{"t":7.52,"v":-0.145,"s":"lb"},{"t":7.58,"v":-0.14,"s":"lb"},{"t":7.65,"v":-0.128,"s":"lb"},{"t":7.72,"v":-0.13,"s":"lb"},{"t":7.78,"v":-0.132,"s":"lb"},{"t":7.85,"v":-0.125,"s":"lb"},{"t":7.92,"v":-0.12,"s":"lb"},{"t":7.98,"v":-0.11,"s":"lb"},{"t":8.05,"v":-0.098,"s":"lb"},{"t":8.12,"v":-0.09,"s":"lb"},{"t":8.2,"v":-0.093,"s":"lb"},{"t":8.25,"v":-0.095,"s":"lb"},
{"t":8.3,"v":-0.048,"s":"lc"},{"t":8.37,"v":-0.05,"s":"lc"},{"t":8.44,"v":-0.055,"s":"lc"},{"t":8.5,"v":-0.06,"s":"lc"},{"t":8.58,"v":-0.068,"s":"lc"},{"t":8.65,"v":-0.072,"s":"lc"},{"t":8.72,"v":-0.065,"s":"lc"},{"t":8.8,"v":-0.062,"s":"lc"},{"t":8.88,"v":-0.058,"s":"lc"},{"t":8.96,"v":-0.062,"s":"lc"},{"t":9.04,"v":-0.07,"s":"lc"},{"t":9.12,"v":-0.075,"s":"lc"},{"t":9.2,"v":-0.078,"s":"lc"},{"t":9.28,"v":-0.08,"s":"lc"},{"t":9.36,"v":-0.082,"s":"lc"},{"t":9.44,"v":-0.085,"s":"lc"},{"t":9.52,"v":-0.09,"s":"lc"},{"t":9.6,"v":-0.095,"s":"lc"},{"t":9.68,"v":-0.1,"s":"lc"},{"t":9.74,"v":-0.105,"s":"lc"},{"t":9.8,"v":-0.113,"s":"lc"},
{"t":9.84,"v":-0.1,"s":"ld"},{"t":9.9,"v":-0.09,"s":"ld"},{"t":9.96,"v":-0.085,"s":"ld"},{"t":10.02,"v":-0.08,"s":"ld"},{"t":10.08,"v":-0.078,"s":"ld"},{"t":10.14,"v":-0.085,"s":"ld"},{"t":10.2,"v":-0.095,"s":"ld"},{"t":10.26,"v":-0.108,"s":"ld"},{"t":10.3,"v":-0.105,"s":"ld"},{"t":10.36,"v":-0.09,"s":"ld"},{"t":10.44,"v":-0.08,"s":"ld"},{"t":10.52,"v":-0.085,"s":"ld"},{"t":10.6,"v":-0.09,"s":"ld"},{"t":10.68,"v":-0.088,"s":"ld"},{"t":10.76,"v":-0.09,"s":"ld"},{"t":10.84,"v":-0.094,"s":"ld"},{"t":10.92,"v":-0.095,"s":"ld"},{"t":11,"v":-0.098,"s":"ld"},{"t":11.08,"v":-0.095,"s":"ld"},{"t":11.16,"v":-0.1,"s":"ld"},{"t":11.24,"v":-0.105,"s":"ld"},{"t":11.32,"v":-0.103,"s":"ld"},{"t":11.38,"v":-0.105,"s":"ld"},{"t":11.44,"v":-0.08,"s":"ld"},{"t":11.5,"v":-0.075,"s":"ld"},{"t":11.58,"v":-0.07,"s":"ld"},{"t":11.66,"v":-0.065,"s":"ld"},{"t":11.74,"v":-0.06,"s":"ld"},{"t":11.82,"v":-0.057,"s":"ld"},{"t":11.88,"v":-0.055,"s":"ld"},
{"t":11.93,"v":-0.095,"s":"le"},{"t":12,"v":-0.115,"s":"le"},{"t":12.06,"v":-0.12,"s":"le"},{"t":12.12,"v":-0.13,"s":"le"},{"t":12.18,"v":-0.11,"s":"le"},{"t":12.24,"v":-0.098,"s":"le"},{"t":12.3,"v":-0.12,"s":"le"},{"t":12.36,"v":-0.13,"s":"le"},{"t":12.42,"v":-0.14,"s":"le"},{"t":12.48,"v":-0.152,"s":"le"},{"t":12.54,"v":-0.11,"s":"le"},{"t":12.6,"v":-0.08,"s":"le"},{"t":12.66,"v":-0.07,"s":"le"},{"t":12.72,"v":-0.075,"s":"le"},{"t":12.78,"v":-0.09,"s":"le"},{"t":12.84,"v":-0.1,"s":"le"},{"t":12.9,"v":-0.098,"s":"le"},{"t":12.96,"v":-0.105,"s":"le"},{"t":13.04,"v":-0.11,"s":"le"},{"t":13.1,"v":-0.118,"s":"le"},{"t":13.16,"v":-0.13,"s":"le"},{"t":13.22,"v":-0.135,"s":"le"},{"t":13.28,"v":-0.09,"s":"le"},{"t":13.34,"v":-0.08,"s":"le"},{"t":13.4,"v":-0.09,"s":"le"},{"t":13.46,"v":-0.11,"s":"le"},{"t":13.52,"v":-0.13,"s":"le"},{"t":13.58,"v":-0.145,"s":"le"},{"t":13.63,"v":-0.15,"s":"le"},{"t":13.68,"v":-0.135,"s":"le"},{"t":13.74,"v":-0.1,"s":"le"},{"t":13.8,"v":-0.08,"s":"le"},{"t":13.86,"v":-0.085,"s":"le"},{"t":13.92,"v":-0.09,"s":"le"},{"t":13.98,"v":-0.085,"s":"le"}
],
"hist":[
{"a":-0.1575,"b":-0.154,"n":5},{"a":-0.1505,"b":-0.147,"n":2},{"a":-0.147,"b":-0.1435,"n":1},{"a":-0.14,"b":-0.1365,"n":1},{"a":-0.1365,"b":-0.133,"n":3},{"a":-0.133,"b":-0.1295,"n":1},{"a":-0.1295,"b":-0.126,"n":1},{"a":-0.126,"b":-0.1225,"n":3},{"a":-0.1225,"b":-0.119,"n":6},{"a":-0.119,"b":-0.1155,"n":6},{"a":-0.1155,"b":-0.112,"n":7},{"a":-0.112,"b":-0.1085,"n":6},{"a":-0.1085,"b":-0.105,"n":12},{"a":-0.105,"b":-0.1015,"n":22},{"a":-0.1015,"b":-0.098,"n":21},{"a":-0.098,"b":-0.0945,"n":26},{"a":-0.0945,"b":-0.091,"n":30},{"a":-0.091,"b":-0.0875,"n":36},{"a":-0.0875,"b":-0.084,"n":40},{"a":-0.084,"b":-0.0805,"n":56},{"a":-0.0805,"b":-0.077,"n":42},{"a":-0.077,"b":-0.0735,"n":53},{"a":-0.0735,"b":-0.07,"n":44},{"a":-0.07,"b":-0.0665,"n":85},{"a":-0.0665,"b":-0.063,"n":62},{"a":-0.063,"b":-0.0595,"n":50},{"a":-0.0595,"b":-0.056,"n":76},{"a":-0.056,"b":-0.0525,"n":75},{"a":-0.0525,"b":-0.049,"n":75},{"a":-0.049,"b":-0.0455,"n":89},{"a":-0.0455,"b":-0.042,"n":75},{"a":-0.042,"b":-0.0385,"n":72},{"a":-0.0385,"b":-0.035,"n":53},{"a":-0.035,"b":-0.0315,"n":45},{"a":-0.0315,"b":-0.028,"n":68},{"a":-0.028,"b":-0.0245,"n":80},{"a":-0.0245,"b":-0.021,"n":136},{"a":-0.021,"b":-0.0175,"n":116},{"a":-0.0175,"b":-0.014,"n":97},{"a":-0.014,"b":-0.0105,"n":165},{"a":-0.0105,"b":-0.007,"n":225},{"a":-0.007,"b":-0.0035,"n":269},{"a":-0.0035,"b":0,"n":247},{"a":0,"b":0.0035,"n":281},{"a":0.0035,"b":0.007,"n":262},{"a":0.007,"b":0.0105,"n":252},{"a":0.0105,"b":0.014,"n":277},{"a":0.014,"b":0.0175,"n":244},{"a":0.0175,"b":0.021,"n":221},{"a":0.021,"b":0.0245,"n":199},{"a":0.0245,"b":0.028,"n":137},{"a":0.028,"b":0.0315,"n":132},{"a":0.0315,"b":0.035,"n":155},{"a":0.035,"b":0.0385,"n":172},{"a":0.0385,"b":0.042,"n":144},{"a":0.042,"b":0.0455,"n":108},{"a":0.0455,"b":0.049,"n":100},{"a":0.049,"b":0.0525,"n":75},{"a":0.0525,"b":0.056,"n":47},{"a":0.056,"b":0.0595,"n":47},{"a":0.0595,"b":0.063,"n":39},{"a":0.063,"b":0.0665,"n":89},{"a":0.0665,"b":0.07,"n":63},{"a":0.07,"b":0.0735,"n":57},{"a":0.0735,"b":0.077,"n":53},{"a":0.077,"b":0.0805,"n":35},{"a":0.0805,"b":0.084,"n":26},{"a":0.084,"b":0.0875,"n":17},{"a":0.0875,"b":0.091,"n":9},{"a":0.091,"b":0.0945,"n":13},{"a":0.0945,"b":0.098,"n":9},{"a":0.098,"b":0.1015,"n":2},{"a":0.1015,"b":0.105,"n":5},{"a":0.105,"b":0.1085,"n":5},{"a":0.1085,"b":0.112,"n":6}
],
"curve":[
{"x":-0.124,"y":2},{"x":-0.12,"y":2.7},{"x":-0.11,"y":5.3},{"x":-0.1,"y":9.9},{"x":-0.09,"y":17.3},{"x":-0.08,"y":28.8},{"x":-0.07,"y":45},{"x":-0.06,"y":66.1},{"x":-0.05,"y":91.8},{"x":-0.04,"y":119.9},{"x":-0.03,"y":147.7},{"x":-0.02,"y":171.3},{"x":-0.01,"y":187.3},{"x":0,"y":193},{"x":0.01,"y":187.3},{"x":0.02,"y":171.3},{"x":0.03,"y":147.7},{"x":0.04,"y":119.9},{"x":0.05,"y":91.8},{"x":0.06,"y":66.1},{"x":0.07,"y":45},{"x":0.08,"y":28.8},{"x":0.09,"y":17.3},{"x":0.1,"y":9.9},{"x":0.11,"y":5.3},{"x":0.12,"y":2.7},{"x":0.124,"y":2}
]
},
"hconcat":[
{
"width":339,"height":303,
"encoding":{
"x":{"field":"t","type":"quantitative","scale":{"domain":[6,14],"nice":false},"axis":{"title":"UTC (h)","values":[6,7,8,9,10,11,12,13,14],"labelPadding":8,"titlePadding":9,"grid":true}},
"y":{"field":"v","type":"quantitative","scale":{"domain":[-0.2,0.2],"nice":false},"axis":{"title":["Difference between Interpolated and","Estimated Slant Ionospheric Delay (m)"],"values":[-0.2,-0.15,-0.1,-0.05,0,0.05,0.1,0.15,0.2],"labelExpr":"replace(format(datum.value,'~g'),'\u2212','-')","labelPadding":6,"titlePadding":7,"grid":true}},
"detail":{"field":"s","type":"nominal"}
},
"layer":[
{"data":{"name":"blue"},"mark":{"type":"line","color":"#4253B2","strokeWidth":6.5,"strokeJoin":"round","strokeCap":"round","clip":true}},
{"data":{"name":"blue"},"mark":{"type":"point","shape":"circle","filled":false,"color":"#3F50B0","size":40,"strokeWidth":1.2,"opacity":1,"clip":true}},
{"data":{"name":"red"},"mark":{"type":"line","color":"#E2321F","strokeWidth":7,"strokeCap":"round","strokeJoin":"round","clip":true}},
{"data":{"name":"red"},"mark":{"type":"point","shape":"circle","filled":true,"color":"#E2321F","size":48,"opacity":1,"clip":true}},
{"data":{"name":"green"},"mark":{"type":"line","color":"#60C352","strokeWidth":7,"strokeCap":"round","strokeJoin":"round","clip":true}},
{"data":{"name":"green"},"mark":{"type":"point","shape":"circle","filled":true,"color":"#60C352","size":48,"opacity":1,"clip":true}}
]
},
{
"width":314,"height":303,
"layer":[
{"data":{"name":"hist"},"mark":{"type":"rect","fill":"#3D3395","stroke":"#15123A","strokeWidth":0.7},
"encoding":{
"x":{"field":"a","type":"quantitative","scale":{"domain":[-0.2,0.15],"nice":false},"axis":{"title":["Interpolated slant ionospheric","delay error (m)"],"values":[-0.2,-0.15,-0.1,-0.05,0,0.05,0.1,0.15],"labelExpr":"replace(format(datum.value,'~g'),'\u2212','-')","labelPadding":8,"titlePadding":6,"grid":false}},
"x2":{"field":"b"},
"y":{"field":"n","type":"quantitative","scale":{"domain":[0,300],"nice":false},"axis":{"title":"No. of samples","values":[0,50,100,150,200,250,300],"labelPadding":8,"titlePadding":13,"grid":true}},
"y2":{"datum":0}
}},
{"data":{"name":"curve"},"mark":{"type":"line","color":"#E5261E","strokeWidth":1.5,"interpolate":"monotone"},
"encoding":{"x":{"field":"x","type":"quantitative"},"y":{"field":"y","type":"quantitative"}}}
]
}
]
}
